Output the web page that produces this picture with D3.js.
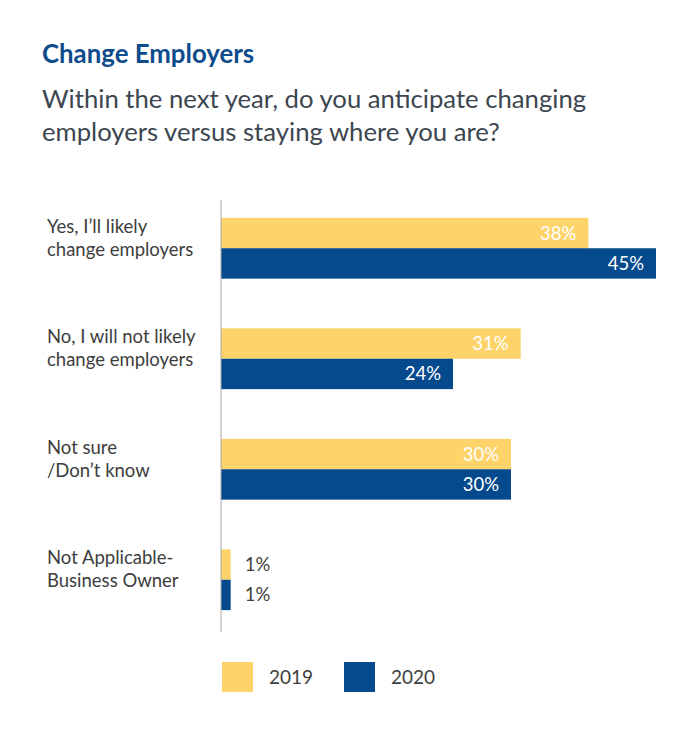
<!DOCTYPE html>
<html>
<head>
<meta charset="utf-8">
<script src="https://cdn.jsdelivr.net/npm/d3@7"></script>
<style>
  body { margin: 0; background: #fff; }
  text { font-family: Lato, "Open Sans", sans-serif; }
</style>
</head>
<body>
<div id="chart"></div>
<script>
// data
const categories = [
    ["Yes, I\u2019ll likely", "change employers"],
    ["No, I will not likely", "change employers"],
    ["Not sure", "/Don\u2019t know"],
    ["Not Applicable-", "Business Owner"]
];
const years = ["2019", "2020"];
const values2019 = [38, 31, 30, 1];
const values2020 = [45, 24, 30, 1];

var width = 700;
var height = 735;
const yellow = "#fdd36a";
const blue = "#054a8d";

const svg = d3.select("#chart")
    .append("svg")
    .attr("width", width)
    .attr("height", height)
    .style("background-color", "#fff");

// title
svg.append("text")
    .attr("x", 42).attr("y", 63)
    .text("Change Employers")
    .attr("fill", "#0f4c8c")
    .style("font-size", "25.8px")
    .style("font-weight", "bold");

svg.selectAll(".sub")
    .data(["Within the next year, do you anticipate changing", "employers versus staying where you are?"])
    .enter()
    .append("text")
    .attr("class", "sub")
    .attr("x", 42)
    .attr("y", function (d, i) { return 108 + i * 33; })
    .text(d => d)
    .attr("fill", "#3c4650")
    .style("font-size", "25.7px");

const x0 = 221;
const xScale = d3.scaleLinear()//bar length
    .domain([0, 45])
    .range([x0, 656]);

const yScale = d3.scaleBand()//category groups
    .domain(d3.range(categories.length))
    .range([193, 635])
    .paddingInner(0.45)
    .paddingOuter(0.225);

const ySub = d3.scaleBand()
    .domain(years)
    .range([0, yScale.bandwidth()]);

const rows = [];
categories.forEach(function (c, i) {
    rows.push({ cat: i, year: "2019", v: values2019[i] });
    rows.push({ cat: i, year: "2020", v: values2020[i] });
});

svg.selectAll("rect.bar")
    .data(rows)
    .enter()
    .append("rect")
    .attr("class", "bar")
    .attr("x", xScale(0))
    .attr("y", d => yScale(d.cat) + ySub(d.year))
    .attr("width", d => xScale(d.v) - xScale(0))
    .attr("height", ySub.bandwidth())
    .attr("fill", d => d.year === "2019" ? yellow : blue);

// value labels
svg.selectAll("text.val")
    .data(rows)
    .enter()
    .append("text")
    .attr("class", "val")
    .text(d => d.v + "%")
    .attr("x", function (d) { return d.v < 5 ? xScale(d.v) + 14 : xScale(d.v) - 12; })
    .attr("y", d => yScale(d.cat) + ySub(d.year) + ySub.bandwidth() / 2 + 6.5)
    .attr("text-anchor", d => d.v < 5 ? "start" : "end")
    .attr("fill", d => d.v < 5 ? "#3d3d3d" : "#fff")
    .style("font-size", "18.5px");

// axis line
svg.append("line")
    .attr("x1", x0).attr("x2", x0)
    .attr("y1", 200).attr("y2", 632)
    .attr("stroke", "#a8a8a8")
    .attr("stroke-width", 1);

// category labels
const lab = svg.selectAll("text.cat")
    .data(categories)
    .enter()
    .append("text")
    .attr("class", "cat")
    .attr("x", 47)
    .attr("y", (d, i) => yScale(i) + 15)
    .attr("fill", "#3d3d3d")
    .style("font-size", "18.5px");
lab.selectAll("tspan")
    .data(d => d)
    .enter()
    .append("tspan")
    .attr("x", 47)
    .attr("dy", (d, i) => i === 0 ? 0 : 23)
    .text(d => d);

// legend
const leg = svg.selectAll("g.leg")
    .data(years)
    .enter()
    .append("g")
    .attr("class", "leg")
    .attr("transform", (d, i) => "translate(" + (222 + i * 122) + ",662)");
leg.append("rect")
    .attr("width", 31).attr("height", 30)
    .attr("fill", (d, i) => i === 0 ? yellow : blue);
leg.append("text")
    .attr("x", 47).attr("y", 22)
    .text(d => d)
    .attr("fill", "#3d3d3d")
    .style("font-size", "19px");
</script>
</body>
</html>
